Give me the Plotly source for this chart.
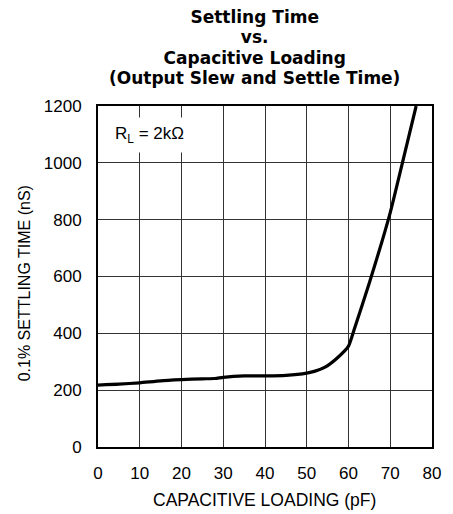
import plotly.graph_objects as go

# Data
cap_pf = [0, 5, 10, 15, 20, 25, 28, 30, 35, 40, 45, 50, 52, 54.5, 57.5, 60, 61.5, 65, 70, 73, 76.2]
settle_ns = [218, 221, 226, 233, 237, 240, 241, 245, 250, 250, 252, 260, 267, 282, 316, 355, 420, 578, 825, 1005, 1200]

x_ticks = [0, 10, 20, 30, 40, 50, 60, 70, 80]
y_ticks = [0, 200, 400, 600, 800, 1000, 1200]

title_lines = ["Settling Time", "vs.", "Capacitive Loading", "(Output Slew and Settle Time)"]

FONT = "Liberation Sans, Arial, sans-serif"
TITLE_FONT = "DejaVu Sans, Liberation Sans, sans-serif"

fig = go.Figure()
fig.add_trace(go.Scatter(x=cap_pf, y=settle_ns, mode="lines",
                         line=dict(color="black", width=3.2, shape="spline", smoothing=0.5),
                         showlegend=False, hoverinfo="skip"))

title_html = "<br>".join("<b><span style='font-size:17px'>%s</span></b>" % t for t in title_lines)

annotations = [
    dict(text=title_html, x=0.4694, y=1.172, xref="paper", yref="paper",
         xanchor="center", yanchor="middle", showarrow=False,
         font=dict(family=TITLE_FONT, size=15.6, color="black")),
    dict(text="0.1% SETTLING TIME (nS)", x=-0.22, y=0.4786, xref="paper", yref="paper",
         xanchor="center", yanchor="middle", textangle=-90, showarrow=False,
         font=dict(family=FONT, size=16, color="black")),
    dict(text="CAPACITIVE LOADING (pF)", x=0.4975, y=-0.154, xref="paper", yref="paper",
         xanchor="center", yanchor="middle", showarrow=False,
         font=dict(family=FONT, size=17.5, color="black")),
    dict(text="R<sub>L</sub> = 2kΩ", x=2.4, y=1097, xref="x", yref="y",
         xanchor="left", yanchor="middle", showarrow=False, bgcolor="white",
         borderpad=6,
         font=dict(family=FONT, size=17, color="black")),
]

fig.update_layout(
    width=453, height=514,
    margin=dict(l=98, r=16, t=106, b=67),
    paper_bgcolor="white", plot_bgcolor="white",
    font=dict(family=FONT, size=16, color="black"),
    annotations=annotations,
)
fig.update_xaxes(range=[0, 80], tickvals=x_ticks, ticktext=[str(v) for v in x_ticks],
                 showgrid=True, gridcolor="#333333", gridwidth=1.2,
                 showline=True, linecolor="black", linewidth=2, mirror=True,
                 zeroline=False, ticks="", ticklabelstandoff=10,
                 tickfont=dict(family=FONT, size=17, color="black"))
fig.update_yaxes(range=[0, 1200], tickvals=y_ticks, ticktext=[str(v) for v in y_ticks],
                 showgrid=True, gridcolor="#333333", gridwidth=1.2,
                 showline=True, linecolor="black", linewidth=2, mirror=True,
                 zeroline=False, ticks="", ticklabelstandoff=11,
                 tickfont=dict(family=FONT, size=17, color="black"))

fig.write_html("out.html", config={"displayModeBar": False},
               post_script="document.body.style.margin='0px';document.body.style.overflow='hidden';")
